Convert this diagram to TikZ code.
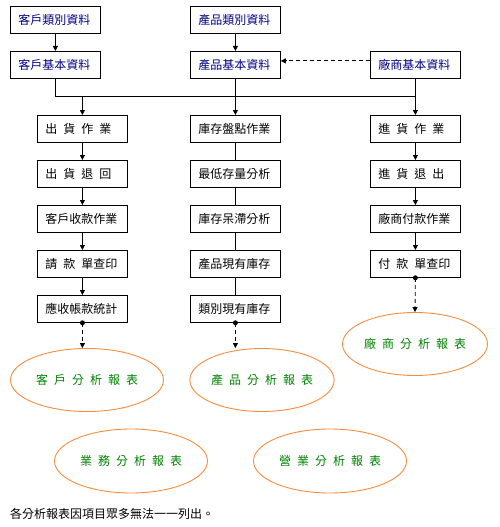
\documentclass[tikz,border=0pt]{standalone}
\usepackage{fontspec}
\setmainfont{Noto Sans CJK TC}
\usetikzlibrary{shapes.geometric,arrows.meta}
\definecolor{navyt}{RGB}{0,0,128}
\definecolor{greent}{RGB}{0,128,0}
\definecolor{orangel}{RGB}{247,140,60}
\newcommand{\hs}{\hspace{0.5em}}
\begin{document}
\begin{tikzpicture}[x=1pt,y=-1pt,
  box/.style={draw,line width=0.8pt,minimum height=27pt,text width=74pt,inner xsep=8pt,inner ysep=0pt,align=left,font=\fontsize{12}{14}\selectfont,anchor=north west},
  bluebox/.style={box,text=navyt},
  rep/.style={ellipse,draw=orangel,line width=0.9pt,inner sep=0pt,text=greent,font=\fontsize{12}{14}\selectfont},
  arr/.style={line width=0.8pt,-{Triangle[length=5pt,width=5pt]}},
  darr/.style={line width=0.8pt,dash pattern=on 4pt off 3pt,-{Triangle[length=5pt,width=5pt]}},
  ln/.style={line width=0.8pt}]
\useasboundingbox (0,0) rectangle (500,527);
% top
\node[bluebox] (kc) at (10,6) {客戶類別資料};
\node[bluebox] (kb) at (10,51) {客戶基本資料};
\node[bluebox] (pc) at (190,6) {產品類別資料};
\node[bluebox] (pb) at (190,51) {產品基本資料};
\node[bluebox] (vb) at (370,51) {廠商基本資料};
% left column
\node[box] (L1) at (37,115) {出\hs 貨\hs 作\hs 業};
\node[box] (L2) at (37,160) {出\hs 貨\hs 退\hs 回};
\node[box] (L3) at (37,205) {客戶收款作業};
\node[box] (L4) at (37,250) {請\hs 款\hs 單查印};
\node[box] (L5) at (37,295) {應收帳款統計};
% middle column
\node[box] (M1) at (190,115) {庫存盤點作業};
\node[box] (M2) at (190,160) {最低存量分析};
\node[box] (M3) at (190,205) {庫存呆滯分析};
\node[box] (M4) at (190,250) {產品現有庫存};
\node[box] (M5) at (190,295) {類別現有庫存};
% right column
\node[box] (R1) at (370,115) {進\hs 貨\hs 作\hs 業};
\node[box] (R2) at (370,160) {進\hs 貨\hs 退\hs 出};
\node[box] (R3) at (370,205) {廠商付款作業};
\node[box] (R4) at (370,250) {付\hs 款\hs 單查印};
% reports
\node[rep,minimum width=153pt,minimum height=63pt] (kr) at (87,380) {客\hs 戶\hs 分\hs 析\hs 報\hs 表};
\node[rep,minimum width=144pt,minimum height=63pt] (pr) at (262,380) {產\hs 品\hs 分\hs 析\hs 報\hs 表};
\node[rep,minimum width=145pt,minimum height=63pt] (vr) at (415,344) {廠\hs 商\hs 分\hs 析\hs 報\hs 表};
\node[rep,minimum width=153pt,minimum height=64pt] (br) at (131,461) {業\hs 務\hs 分\hs 析\hs 報\hs 表};
\node[rep,minimum width=153pt,minimum height=64pt] (yr) at (330,461) {營\hs 業\hs 分\hs 析\hs 報\hs 表};
\node[anchor=west,inner sep=0pt,font=\fontsize{12}{14}\selectfont] (note) at (10,514) {各分析報表因項目眾多無法一一列出。};
% connectors top
\coordinate (bus) at (0,96);
\draw[arr] (kc.south) -- (kb.north);
\draw[arr] (pc.south) -- (pb.north);
\draw[darr] ([yshift=4pt]vb.west) -- ([yshift=4pt]pb.east);
\draw[ln] (kb.south) -- (kb.south |- bus) -- (vb.south |- bus) -- (vb.south);
\draw[ln] (pb.south) -- (pb.south |- bus);
\draw[arr] (L1.north |- bus) -- (L1.north);
\draw[arr] (M1.north |- bus) -- (M1.north);
\draw[arr] (R1.north |- bus) -- (R1.north);
% left chain
\draw[arr] (L1.south) -- (L2.north);
\draw[arr] (L2.south) -- (L3.north);
\draw[arr] (L3.south) -- (L4.north);
\draw[arr] (L4.south) -- (L5.north);
% middle chain
\draw[ln] (M1.south) -- (M2.north);
\draw[ln] (M2.south) -- (M3.north);
\draw[ln] (M3.south) -- (M4.north);
\draw[ln] (M4.south) -- (M5.north);
% right chain
\draw[arr] (R1.south) -- (R2.north);
\draw[arr] (R2.south) -- (R3.north);
\draw[arr] (R3.south) -- (R4.north);
% dashed to reports
\fill (L5.south) circle (2.5pt);
\fill (M5.south) circle (2.5pt);
\fill (R4.south) circle (2.5pt);
\draw[darr] (L5.south) -- (L5.south |- kr.north);
\draw[darr] (M5.south) -- (M5.south |- pr.north);
\draw[darr] (R4.south) -- (vr.north);
\end{tikzpicture}
\end{document}
